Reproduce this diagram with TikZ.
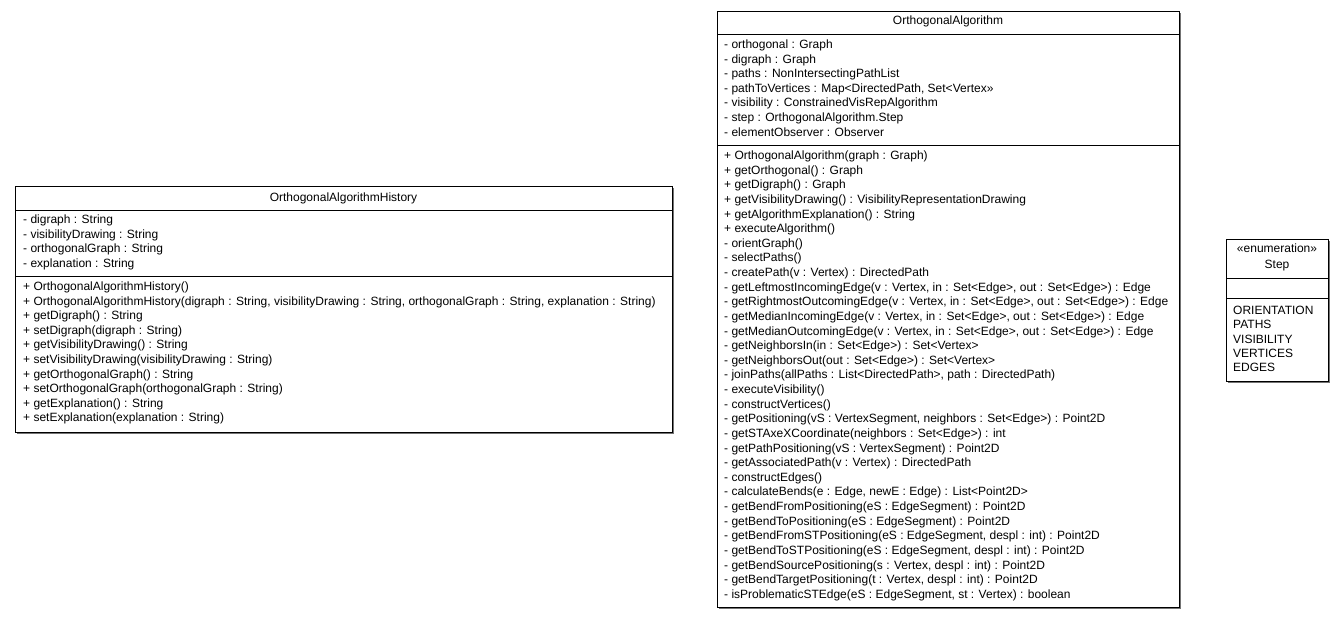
\documentclass[tikz,border=0pt]{standalone}
\usepackage{fontspec}
\setmainfont{Liberation Sans}

\tikzset{
  classbox/.style={draw=black, line width=0.9pt, fill=white},
  shadowbox/.style={fill=black!55, draw=none},
  member/.style={anchor=base west, inner sep=0pt, font=\fontsize{12}{14.6}\selectfont},
  classname/.style={anchor=base, inner sep=0pt, font=\fontsize{12}{14.6}\selectfont},
}

\begin{document}
\begin{tikzpicture}[x=1pt, y=-1pt]
    \useasboundingbox (0,0) rectangle (1343,619);

    % OrthogonalAlgorithmHistory
    \fill[shadowbox] (17,188) rectangle (674,434);
    \draw[classbox] (15,186) rectangle (672,432);
    \draw[line width=0.9pt] (15,210) -- (672,210) (15,276) -- (672,276);
    \node[classname] (hist) at (343.5,201.5) {OrthogonalAlgorithmHistory};
    \foreach \txt [count=\i] in {- digraph : String, - visibilityDrawing : String,
        - orthogonalGraph : String, - explanation : String}
        \node[member] (hist-a\i) at (23,{223.5+14.6*(\i-1)}) {\txt};
    \foreach \txt [count=\i] in {+ OrthogonalAlgorithmHistory(),
        {+ OrthogonalAlgorithmHistory(digraph : String, visibilityDrawing : String, orthogonalGraph : String, explanation : String)},
        + getDigraph() : String, + setDigraph(digraph : String),
        + getVisibilityDrawing() : String, + setVisibilityDrawing(visibilityDrawing : String),
        + getOrthogonalGraph() : String, + setOrthogonalGraph(orthogonalGraph : String),
        + getExplanation() : String, + setExplanation(explanation : String)}
        \node[member] (hist-m\i) at (23,{290.5+14.6*(\i-1)}) {\txt};

    % OrthogonalAlgorithm
    \fill[shadowbox] (719,13) rectangle (1181,609);
    \draw[classbox] (717,11) rectangle (1179,607);
    \draw[line width=0.9pt] (717,34) -- (1179,34) (717,145) -- (1179,145);
    \node[classname] (algo) at (948,24.5) {OrthogonalAlgorithm};
    \foreach \txt [count=\i] in {- orthogonal : Graph, - digraph : Graph,
        - paths : NonIntersectingPathList,
        {- pathToVertices : Map<DirectedPath, Set<Vertex>>},
        - visibility : ConstrainedVisRepAlgorithm,
        - step : OrthogonalAlgorithm.Step, - elementObserver : Observer}
        \node[member] (algo-a\i) at (724,{48.5+14.6*(\i-1)}) {\txt};
    \foreach \txt [count=\i] in {+ OrthogonalAlgorithm(graph : Graph),
        + getOrthogonal() : Graph, + getDigraph() : Graph,
        + getVisibilityDrawing() : VisibilityRepresentationDrawing,
        + getAlgorithmExplanation() : String, + executeAlgorithm(),
        - orientGraph(), - selectPaths(), - createPath(v : Vertex) : DirectedPath,
        {- getLeftmostIncomingEdge(v : Vertex, in : Set<Edge>, out : Set<Edge>) : Edge},
        {- getRightmostOutcomingEdge(v : Vertex, in : Set<Edge>, out : Set<Edge>) : Edge},
        {- getMedianIncomingEdge(v : Vertex, in : Set<Edge>, out : Set<Edge>) : Edge},
        {- getMedianOutcomingEdge(v : Vertex, in : Set<Edge>, out : Set<Edge>) : Edge},
        - getNeighborsIn(in : Set<Edge>) : Set<Vertex>,
        - getNeighborsOut(out : Set<Edge>) : Set<Vertex>,
        {- joinPaths(allPaths : List<DirectedPath>, path : DirectedPath)},
        - executeVisibility(), - constructVertices(),
        {- getPositioning(vS : VertexSegment, neighbors : Set<Edge>) : Point2D},
        - getSTAxeXCoordinate(neighbors : Set<Edge>) : int,
        - getPathPositioning(vS : VertexSegment) : Point2D,
        - getAssociatedPath(v : Vertex) : DirectedPath, - constructEdges(),
        {- calculateBends(e : Edge, newE : Edge) : List<Point2D>},
        - getBendFromPositioning(eS : EdgeSegment) : Point2D,
        - getBendToPositioning(eS : EdgeSegment) : Point2D,
        {- getBendFromSTPositioning(eS : EdgeSegment, despl : int) : Point2D},
        {- getBendToSTPositioning(eS : EdgeSegment, despl : int) : Point2D},
        {- getBendSourcePositioning(s : Vertex, despl : int) : Point2D},
        {- getBendTargetPositioning(t : Vertex, despl : int) : Point2D},
        {- isProblematicSTEdge(eS : EdgeSegment, st : Vertex) : boolean}}
        \node[member] (algo-m\i) at (724,{159.5+14.63*(\i-1)}) {\txt};

    % Step
    \fill[shadowbox] (1228,241) rectangle (1330,383);
    \draw[classbox] (1226,239) rectangle (1328,381);
    \draw[line width=0.9pt] (1226,278) -- (1328,278) (1226,298) -- (1328,298);
    \node[classname] (step-st) at (1277,252.5) {«enumeration»};
    \node[classname] (step) at (1277,268.5) {Step};
    \foreach \txt [count=\i] in {ORIENTATION, PATHS, VISIBILITY, VERTICES, EDGES}
        \node[member] (step-v\i) at (1233,{314.5+14.3*(\i-1)}) {\txt};
\end{tikzpicture}
\end{document}
